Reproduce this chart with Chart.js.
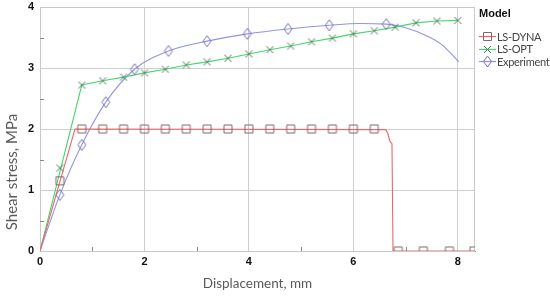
<!DOCTYPE html>
<html>
<head>
<meta charset="utf-8">
<script src="https://cdn.jsdelivr.net/npm/chart.js@4"></script>
<style>
  body { margin: 0; background: #fff; }
  #wrap { position: relative; width: 550px; height: 298px; overflow: hidden; }
  #legend { position: absolute; left: 479px; top: 7px; font-family: "Lato", sans-serif; white-space: nowrap; }
  #legend .title { font: bold 11px "Liberation Sans", Arial, sans-serif; color: #111; margin-bottom: 11px; }
  #legend .row { display: flex; align-items: center; height: 12.5px; font-size: 11px; letter-spacing: -0.3px; color: #444; }
  #legend canvas { margin-right: 1px; }
</style>
</head>
<body>
<div id="wrap">
  <canvas id="shearChart" width="550" height="298"></canvas>
  <div id="legend"><div class="title">Model</div></div>
</div>
<script>
// axis ticks
const xTickValues = [0, 2, 4, 6, 8];
const yTickValues = [0, 1, 2, 3, 4];
const xMinorTicks = [1, 3, 5, 7];
const yMinorTicks = [0.5, 1.5, 2.5, 3.5];

// LS-DYNA
const dynaLineX = [0, 0.67, 6.62, 6.66, 6.70, 6.74, 6.76, 8.33];
const dynaLineY = [0, 2.0, 1.99, 1.93, 1.80, 1.76, 0, 0];
const dynaMarkX = [0.38, 0.8, 1.2, 1.6, 2.0, 2.4, 2.8, 3.2, 3.6, 4.0, 4.4, 4.8, 5.2, 5.6, 6.0, 6.4, 6.86, 7.34, 7.84, 8.31];
const dynaMarkY = [1.15, 2, 2, 2, 2, 2, 2, 2, 2, 2, 2, 2, 2, 2, 2, 2, 0, 0, 0, 0];

// LS-OPT
const optLineX = [0, 0.8, 1.2, 1.6, 2.0, 2.4, 2.8, 3.2, 3.6, 4.0, 4.4, 4.8, 5.2, 5.6, 6.0, 6.4, 6.8, 7.2, 7.6, 8.0];
const optLineY = [0, 2.72, 2.79, 2.85, 2.92, 2.98, 3.05, 3.10, 3.16, 3.23, 3.30, 3.36, 3.43, 3.49, 3.56, 3.61, 3.67, 3.74, 3.77, 3.78];
const optMarkX = [0.38, 0.8, 1.2, 1.6, 2.0, 2.4, 2.8, 3.2, 3.6, 4.0, 4.4, 4.8, 5.2, 5.6, 6.0, 6.4, 6.8, 7.2, 7.6, 8.0];
const optMarkY = [1.36, 2.72, 2.79, 2.85, 2.92, 2.98, 3.05, 3.10, 3.16, 3.23, 3.30, 3.36, 3.43, 3.49, 3.56, 3.61, 3.67, 3.74, 3.77, 3.78];

// Experiment
const expLineX = [0, 0.38, 0.8, 1.26, 1.81, 2.46, 3.2, 3.97, 4.75, 5.54, 6.1, 6.63, 7.0, 7.4, 7.7, 8.02];
const expLineY = [0, 0.92, 1.74, 2.44, 2.98, 3.28, 3.44, 3.56, 3.64, 3.70, 3.73, 3.72, 3.66, 3.53, 3.38, 3.10];
const expMarkX = [0.38, 0.8, 1.26, 1.81, 2.46, 3.2, 3.97, 4.75, 5.54, 6.63];
const expMarkY = [0.92, 1.74, 2.44, 2.98, 3.28, 3.44, 3.56, 3.64, 3.70, 3.72];

const yTitle = 'Shear stress, MPa';

const toPoints = (xs, ys) => xs.map((x, i) => ({ x: x, y: ys[i] }));

function drawMarker(ctx, kind, cx, cy, color) {
    ctx.strokeStyle = color;
    ctx.lineWidth = 1;
    ctx.beginPath();
    if (kind === 'square') {
        ctx.rect(cx - 4, cy - 4, 8, 8);
    } else if (kind === 'cross') {
        ctx.moveTo(cx - 3.5, cy - 3.5); ctx.lineTo(cx + 3.5, cy + 3.5);
        ctx.moveTo(cx + 3.5, cy - 3.5); ctx.lineTo(cx - 3.5, cy + 3.5);
    } else {
        ctx.moveTo(cx, cy - 5.5); ctx.lineTo(cx + 4, cy);
        ctx.lineTo(cx, cy + 5.5); ctx.lineTo(cx - 4, cy);
        ctx.closePath();
    }
    ctx.stroke();
}

function markerImage(kind, color) {
    const c = document.createElement('canvas');
    c.width = 12; c.height = 13;
    drawMarker(c.getContext('2d'), kind, 6, 6.5, color);
    return c;
}

const series = [
    { label: 'LS-DYNA', line: '#e8686b', mark: '#8a6464', kind: 'square',
      lineData: toPoints(dynaLineX, dynaLineY), markData: toPoints(dynaMarkX, dynaMarkY), smooth: false },
    { label: 'LS-OPT', line: '#45d66e', mark: '#4d7454', kind: 'cross',
      lineData: toPoints(optLineX, optLineY), markData: toPoints(optMarkX, optMarkY), smooth: false },
    { label: 'Experiment', line: '#9393e6', mark: '#7474a8', kind: 'diamond',
      lineData: toPoints(expLineX, expLineY), markData: toPoints(expMarkX, expMarkY), smooth: true }
];

const datasets = [];
series.forEach(s => {
    datasets.push({
        label: s.label, data: s.lineData, borderColor: s.line, borderWidth: 1.1,
        pointRadius: 0, fill: false, order: 2,
        cubicInterpolationMode: s.smooth ? 'monotone' : 'default'
    });
    datasets.push({
        label: s.label + ' markers', data: s.markData, showLine: false,
        pointStyle: markerImage(s.kind, s.mark), pointRadius: 5, order: 1
    });
});

// html legend with line+marker icons
const legendBox = document.getElementById('legend');
series.forEach(s => {
    const row = document.createElement('div');
    row.className = 'row';
    const icon = document.createElement('canvas');
    icon.width = 17; icon.height = 12;
    const ictx = icon.getContext('2d');
    ictx.strokeStyle = s.line; ictx.lineWidth = 1.2;
    ictx.beginPath(); ictx.moveTo(0, 6.5); ictx.lineTo(17, 6.5); ictx.stroke();
    drawMarker(ictx, s.kind, 8.5, 6.5, s.mark);
    row.appendChild(icon);
    const txt = document.createElement('span');
    txt.textContent = s.label;
    row.appendChild(txt);
    legendBox.appendChild(row);
});

const frame = {
    id: 'frame',
    beforeDatasetsDraw(chart) {
        const { ctx, chartArea: a, scales } = chart;
        ctx.save();
        ctx.strokeStyle = '#c9c9c9';
        ctx.lineWidth = 1;
        ctx.strokeRect(a.left + 0.5, a.top + 0.5, a.right - a.left - 1, a.bottom - a.top);
        ctx.strokeStyle = '#888';
        ctx.beginPath();
        xMinorTicks.forEach(v => {
            const px = Math.round(scales.x.getPixelForValue(v)) + 0.5;
            ctx.moveTo(px, a.bottom); ctx.lineTo(px, a.bottom - 4);
        });
        yMinorTicks.forEach(v => {
            const py = Math.round(scales.y.getPixelForValue(v)) + 0.5;
            ctx.moveTo(a.left, py); ctx.lineTo(a.left + 4, py);
        });
        ctx.stroke();
        // y axis title, set lower than centre as in the source figure
        ctx.translate(12, 172);
        ctx.rotate(-Math.PI / 2);
        ctx.font = '15px Lato, sans-serif';
        ctx.fillStyle = '#5a5a5a';
        ctx.textAlign = 'center';
        ctx.textBaseline = 'middle';
        ctx.fillText(yTitle, 0, 0);
        ctx.restore();
    }
};

const tickFont = { family: '"Liberation Sans", Arial, sans-serif', size: 11, weight: 'bold' };
const titleFont = { family: 'Lato, sans-serif', size: 13.5 };

new Chart(document.getElementById('shearChart').getContext('2d'), {
    type: 'line',
    data: { datasets: datasets },
    options: {
        responsive: false,
        animation: false,
        layout: { padding: { top: 7, right: 75, left: 0, bottom: 0 } },
        plugins: { legend: { display: false }, tooltip: { enabled: false } },
        scales: {
            x: {
                type: 'linear', min: 0, max: 8.33,
                afterBuildTicks: s => { s.ticks = xTickValues.map(v => ({ value: v })); },
                afterFit: s => { s.height = 47; s.paddingLeft = 0; s.paddingRight = 0; },
                ticks: { font: tickFont, color: '#111', padding: 4, maxRotation: 0 },
                grid: { color: '#cfcfcf', drawTicks: false },
                border: { color: '#8c8c8c' },
                title: { display: true, text: 'Displacement, mm', font: titleFont, color: '#5a5a5a', padding: { top: 0, bottom: 6 } }
            },
            y: {
                min: 0, max: 4,
                afterBuildTicks: s => { s.ticks = yTickValues.map(v => ({ value: v })); },
                afterFit: s => { s.width = 40; s.paddingTop = 0; s.paddingBottom = 0; },
                ticks: { font: tickFont, color: '#111', padding: 6 },
                grid: { color: '#cfcfcf', drawTicks: false },
                border: { color: '#8c8c8c' }
            }
        }
    },
    plugins: [frame]
});
</script>
</body>
</html>
